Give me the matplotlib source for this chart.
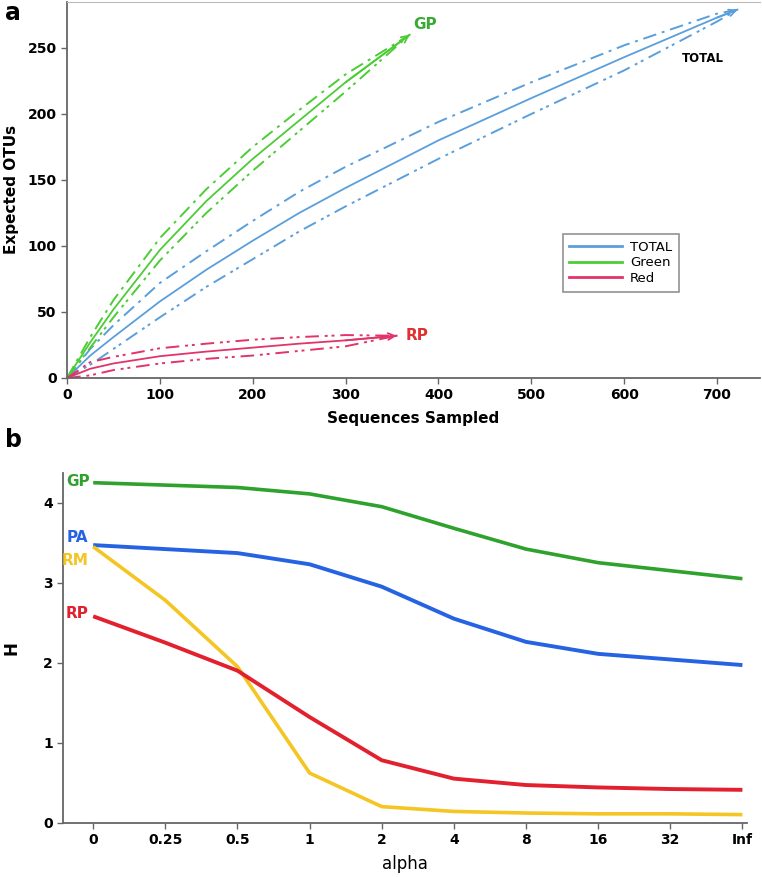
import matplotlib
matplotlib.use("Agg")
import matplotlib.pyplot as plt

# ---------------- Panel a data ----------------
total_x = [0, 25, 50, 100, 150, 200, 250, 300, 350, 400, 500, 600, 700, 722]
total_mean = [0, 17, 31, 58, 82, 104, 125, 144, 162, 180, 212, 243, 273, 279]
total_upper = [0, 22, 40, 72, 96, 119, 141, 160, 177, 194, 224, 252, 276, 279]
total_lower = [0, 10, 22, 46, 69, 90, 111, 130, 148, 166, 200, 233, 270, 279]

green_x = [0, 25, 50, 100, 150, 200, 250, 300, 369]
green_mean = [0, 27, 52, 97, 134, 166, 195, 224, 260]
green_upper = [0, 31, 59, 106, 143, 175, 203, 230, 260]
green_lower = [0, 23, 46, 89, 125, 157, 187, 217, 260]

red_x = [0, 25, 50, 100, 150, 200, 250, 300, 355]
red_mean = [0, 7, 11, 16.5, 20, 23, 26, 28.5, 32]
red_upper = [0, 12, 16, 22.5, 26, 29, 31, 32.5, 32]
red_lower = [0, 2, 6, 11, 14.5, 17, 20.5, 24, 32]

a_xticks = [0, 100, 200, 300, 400, 500, 600, 700]
a_yticks = [0, 50, 100, 150, 200, 250]

# ---------------- Panel b data ----------------
alpha_labels = ["0", "0.25", "0.5", "1", "2", "4", "8", "16", "32", "Inf"]
H_GP = [4.25, 4.22, 4.19, 4.11, 3.95, 3.68, 3.42, 3.25, 3.15, 3.05]
H_PA = [3.47, 3.42, 3.37, 3.23, 2.95, 2.55, 2.26, 2.11, 2.04, 1.97]
H_RM = [3.45, 2.78, 1.95, 0.62, 0.20, 0.14, 0.12, 0.11, 0.11, 0.10]
H_RP = [2.58, 2.25, 1.90, 1.32, 0.78, 0.55, 0.47, 0.44, 0.42, 0.41]
b_yticks = [0, 1, 2, 3, 4]

fig = plt.figure(figsize=(7.62, 8.77), dpi=100)

spine_col = "#666666"

# ---------------- Panel a ----------------
axa = fig.add_axes([0.088, 0.569, 0.909, 0.429])
c_tot = "#5a9fdc"
c_grn = "#4ccc35"
c_red = "#e2336a"
up_ls = (0, (7, 3, 1.5, 3))
lo_ls = (0, (7, 3, 1.5, 2, 1.5, 3))

series = [
    (total_x, total_mean, total_upper, total_lower, c_tot, "TOTAL"),
    (green_x, green_mean, green_upper, green_lower, c_grn, "Green"),
    (red_x, red_mean, red_upper, red_lower, c_red, "Red"),
]
for xs, m, u, l, c, lab in series:
    axa.plot(xs, m, color=c, lw=1.3, label=lab)
    axa.plot(xs, u, color=c, lw=1.4, ls=up_ls if lab != "Red" else lo_ls)
    axa.plot(xs, l, color=c, lw=1.4, ls=lo_ls)
    axa.annotate("", xy=(xs[-1], m[-1]), xytext=(xs[-2], m[-2]),
                 arrowprops=dict(arrowstyle="->", color=c, lw=1.3,
                                 mutation_scale=12, shrinkA=0, shrinkB=0))

axa.set_xlim(0, 746)
axa.set_ylim(0, 285)
axa.set_xticks(a_xticks)
axa.set_yticks(a_yticks)
for lab in axa.get_xticklabels() + axa.get_yticklabels():
    lab.set_fontweight("bold")
    lab.set_fontsize(10)
axa.tick_params(direction="out", length=4, color=spine_col, width=1)
axa.spines["right"].set_visible(False)
axa.spines["top"].set_color("#bbbbbb")
for s in ["left", "bottom"]:
    axa.spines[s].set_color(spine_col)
    axa.spines[s].set_linewidth(1.3)
axa.set_xlabel("Sequences Sampled", fontsize=11, fontweight="bold", labelpad=6)
axa.set_ylabel("Expected OTUs", fontsize=11, fontweight="bold", labelpad=6)

axa.text(green_x[-1] + 4, green_mean[-1] + 8, "GP", color="#3aaa35",
         fontsize=11, fontweight="bold", ha="left", va="center")
axa.text(red_x[-1] + 10, red_mean[-1], "RP", color="#e03030",
         fontsize=11, fontweight="bold", ha="left", va="center")
axa.text(685, 242, "TOTAL", color="black", fontsize=8.5, fontweight="bold",
         ha="center", va="center")

leg = axa.legend(loc="upper left", bbox_to_anchor=(0.706, 0.40),
                 fancybox=False, edgecolor="#777777", fontsize=9.5,
                 handlelength=4.0, borderpad=0.5, labelspacing=0.2,
                 handletextpad=0.6)
leg.get_frame().set_linewidth(1.2)
for line in leg.get_lines():
    line.set_linewidth(2)

fig.text(0.006, 0.985, "a", fontsize=17, fontweight="bold", va="center")

# ---------------- Panel b ----------------
axb = fig.add_axes([0.083, 0.062, 0.897, 0.399])
xpos = list(range(len(alpha_labels)))
axb.plot(xpos, H_GP, color="#2ea22c", lw=2.6, solid_capstyle="butt")
axb.plot(xpos, H_PA, color="#2563e3", lw=2.8, solid_capstyle="butt")
axb.plot(xpos, H_RM, color="#f5c523", lw=2.6, solid_capstyle="butt")
axb.plot(xpos, H_RP, color="#e3202e", lw=2.8, solid_capstyle="butt")

axb.text(-0.05, 4.27, "GP", color="#2ea22c", fontsize=11, fontweight="bold",
         ha="right", va="center")
axb.text(-0.07, 3.56, "PA", color="#2563e3", fontsize=11, fontweight="bold",
         ha="right", va="center")
axb.text(-0.07, 3.28, "RM", color="#f5c523", fontsize=11, fontweight="bold",
         ha="right", va="center")
axb.text(-0.07, 2.62, "RP", color="#e3202e", fontsize=11, fontweight="bold",
         ha="right", va="center")

axb.set_xlim(-0.415, 9.06)
axb.set_ylim(0, 4.375)
axb.set_xticks(xpos)
axb.set_xticklabels(alpha_labels)
axb.set_yticks(b_yticks)
for lab in axb.get_xticklabels() + axb.get_yticklabels():
    lab.set_fontweight("bold")
    lab.set_fontsize(10)
axb.tick_params(direction="out", length=4, color=spine_col, width=1)
axb.spines["right"].set_visible(False)
axb.spines["top"].set_visible(False)
for s in ["left", "bottom"]:
    axb.spines[s].set_color(spine_col)
    axb.spines[s].set_linewidth(1.3)
axb.set_xlabel("alpha", fontsize=12, labelpad=6)
axb.set_ylabel("H", fontsize=12, fontweight="bold", labelpad=16)

fig.text(0.006, 0.498, "b", fontsize=17, fontweight="bold", va="center")

fig.savefig("out.png", dpi=100)
